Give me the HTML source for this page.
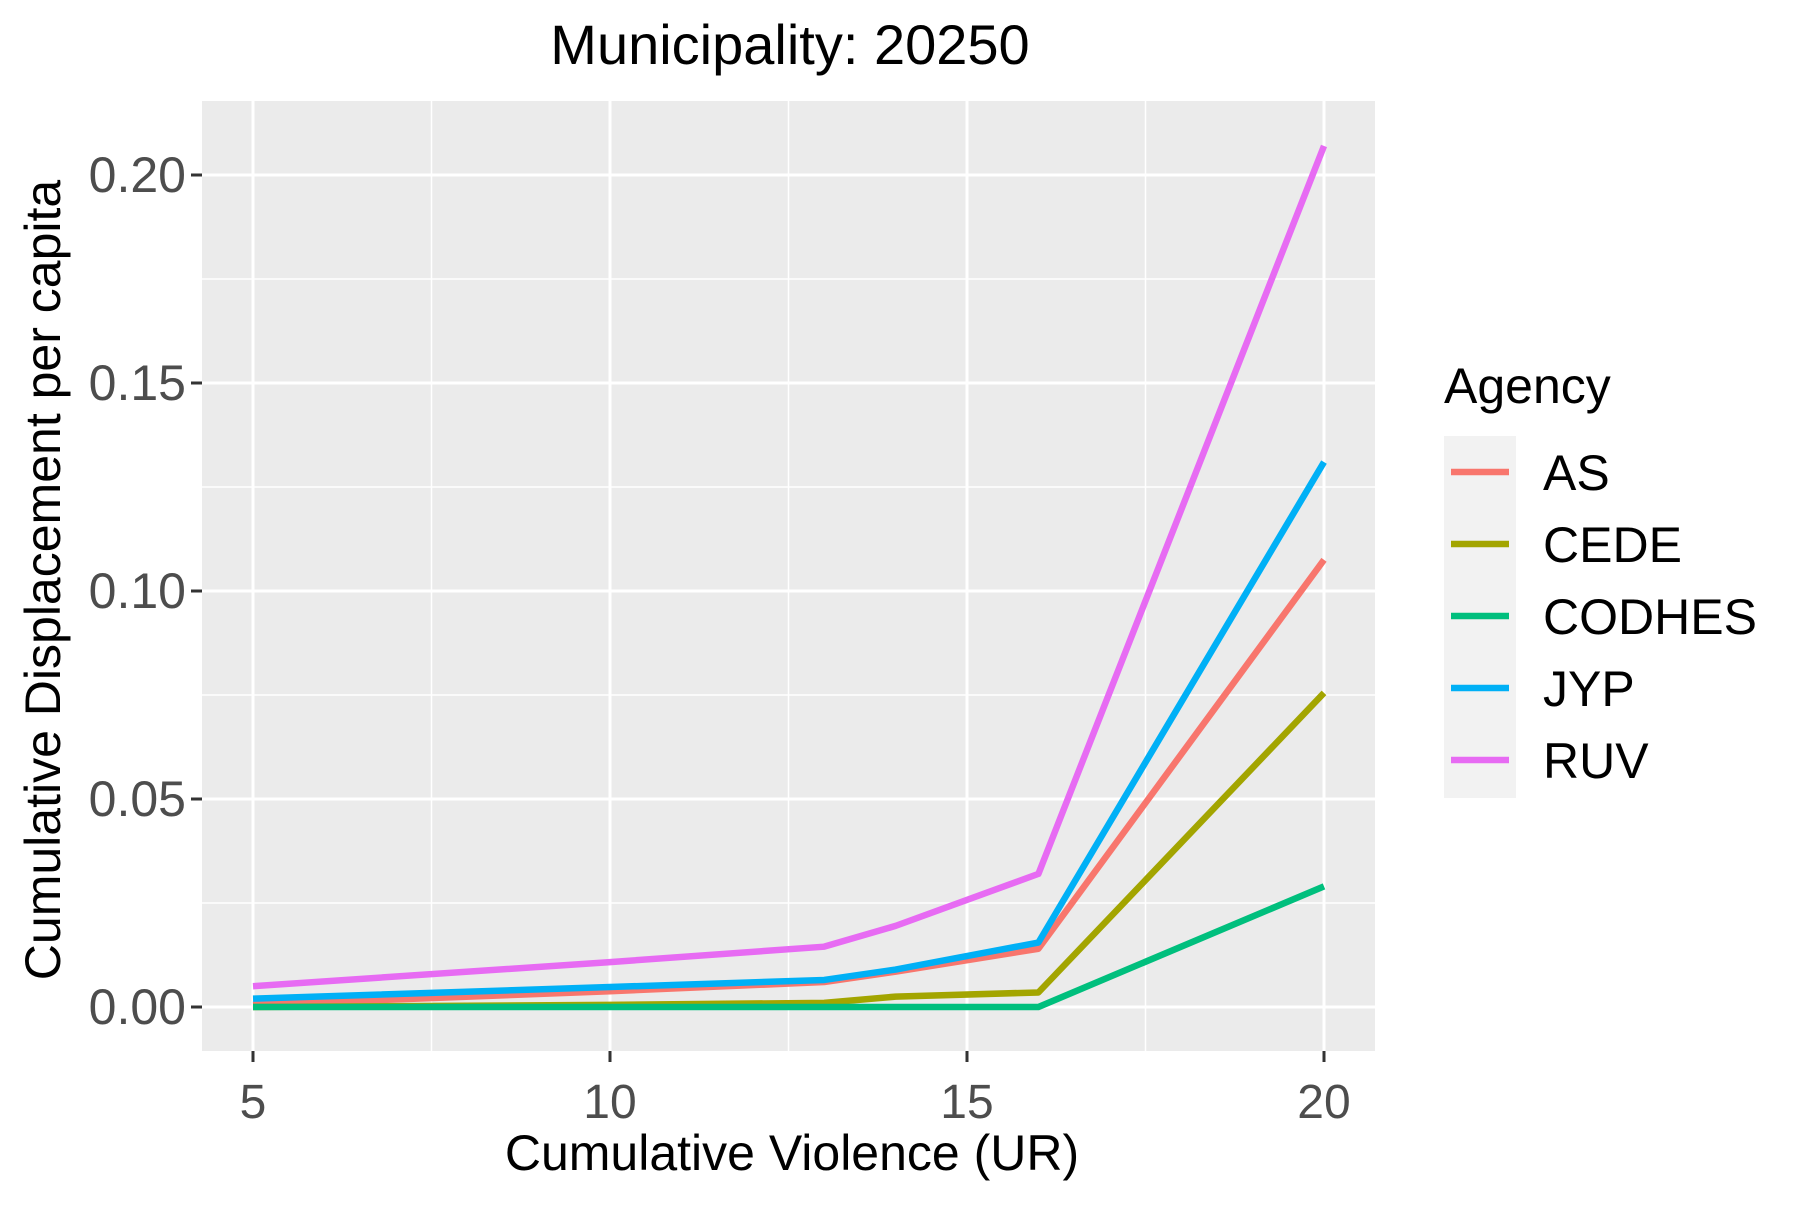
<!DOCTYPE html>
<html><head><meta charset="utf-8"><style>
body{margin:0;background:#fff}
text{font-family:"Liberation Sans",sans-serif}
</style></head><body>
<svg id="chart" width="1800" height="1200" xmlns="http://www.w3.org/2000/svg">
<rect width="1800" height="1200" fill="#fff"/>
<text x="790" y="64" font-size="56" text-anchor="middle" fill="#000">Municipality: 20250</text>
<rect x="202" y="101" width="1173" height="950" fill="#ebebeb"/>
<g id="grid"></g>
<g id="lines"></g>
<g id="axes"></g>
<text x="792" y="1170" font-size="50" text-anchor="middle" fill="#000">Cumulative Violence (UR)</text>
<text transform="translate(60,580) rotate(-90)" font-size="50" text-anchor="middle" fill="#000">Cumulative Displacement per capita</text>
<text x="1444" y="403" font-size="50" fill="#000">Agency</text>
<g id="legend"></g>
</svg>
<script>
const xs = [5, 10, 13, 14, 16, 20];
const agencies = ['AS', 'CEDE', 'CODHES', 'JYP', 'RUV'];
const colors = ['#F8766D', '#A3A500', '#00BF7D', '#00B0F6', '#E76BF3'];
const asVals = [0.0005, 0.0038, 0.006, 0.0085, 0.014, 0.1075];
const cedeVals = [0, 0.0005, 0.001, 0.0025, 0.0035, 0.0755];
const codhesVals = [0, 0, 0, 0, 0, 0.029];
const jypVals = [0.002, 0.0048, 0.0065, 0.009, 0.0155, 0.131];
const ruvVals = [0.005, 0.0108, 0.0145, 0.0195, 0.032, 0.207];
const xTicks = [5, 10, 15, 20];
const xMinor = [7.5, 12.5, 17.5];
const yTicks = [0, 0.05, 0.10, 0.15, 0.20];
const yTickLabels = ['0.00', '0.05', '0.10', '0.15', '0.20'];
const yMinor = [0.025, 0.075, 0.125, 0.175];
const series = [asVals, cedeVals, codhesVals, jypVals, ruvVals];

const X = v => 253 + (v - 5) * (1324 - 253) / 15;
const Y = v => 1007 - v * (1007 - 175) / 0.2;
const NS = 'http://www.w3.org/2000/svg';
function mk(tag, attrs, parent) {
  const e = document.createElementNS(NS, tag);
  for (const k in attrs) e.setAttribute(k, attrs[k]);
  parent.appendChild(e);
  return e;
}
const grid = document.getElementById('grid');
const axes = document.getElementById('axes');
const lines = document.getElementById('lines');
const legend = document.getElementById('legend');
xMinor.forEach(v => {
  const l = mk('line', {x1: X(v), x2: X(v), y1: 101, y2: 1051, stroke: '#fff', 'stroke-width': 1.5}, grid);
  
  
});
yMinor.forEach(v => {
  const l = mk('line', {x1: 202, x2: 1375, y1: Y(v), y2: Y(v), stroke: '#fff', 'stroke-width': 1.5}, grid);
  
  
});
xTicks.forEach(v => {
  const l = mk('line', {x1: X(v), x2: X(v), y1: 101, y2: 1051, stroke: '#fff', 'stroke-width': 3}, grid);
  
  
  const t = mk('line', {x1: X(v), x2: X(v), y1: 1051, y2: 1062, stroke: '#333', 'stroke-width': 3}, axes);
  
  
  const tx = mk('text', {x: X(v), y: 1118, 'font-size': 48, 'text-anchor': 'middle', fill: '#4d4d4d'}, axes);
  tx.textContent = v;
  
  
});
yTicks.forEach((v, i) => {
  const l = mk('line', {x1: 202, x2: 1375, y1: Y(v), y2: Y(v), stroke: '#fff', 'stroke-width': 3}, grid);
  
  
  const t = mk('line', {x1: 191, x2: 202, y1: Y(v), y2: Y(v), stroke: '#333', 'stroke-width': 3}, axes);
  
  
  const tx = mk('text', {x: 186, y: Y(v) + 17, 'font-size': 50, 'text-anchor': 'end', fill: '#4d4d4d'}, axes);
  tx.textContent = yTickLabels[i];
  
  
});
series.forEach((vals, si) => {
  const pts = vals.map((v, i) => X(xs[i]) + ',' + Y(v)).join(' ');
  const p = mk('polyline', {points: pts, fill: 'none', stroke: colors[si], 'stroke-width': 6.5, 'stroke-linejoin': 'round'}, lines);
  
  
});
const lb = mk('rect', {x: 1459 - 15, y: 436, width: 72, height: 362, fill: '#f2f2f2'}, legend);


agencies.forEach((a, i) => {
  const cy = 472 + i * 72;
  const k = mk('line', {x1: 1451, x2: 1509, y1: cy, y2: cy, stroke: colors[i], 'stroke-width': 6.5}, legend);
  
  
  const t = mk('text', {x: 1543, y: cy + 18, 'font-size': 50, fill: '#000'}, legend);
  t.textContent = a;
  
  
});
</script>
</body></html>
